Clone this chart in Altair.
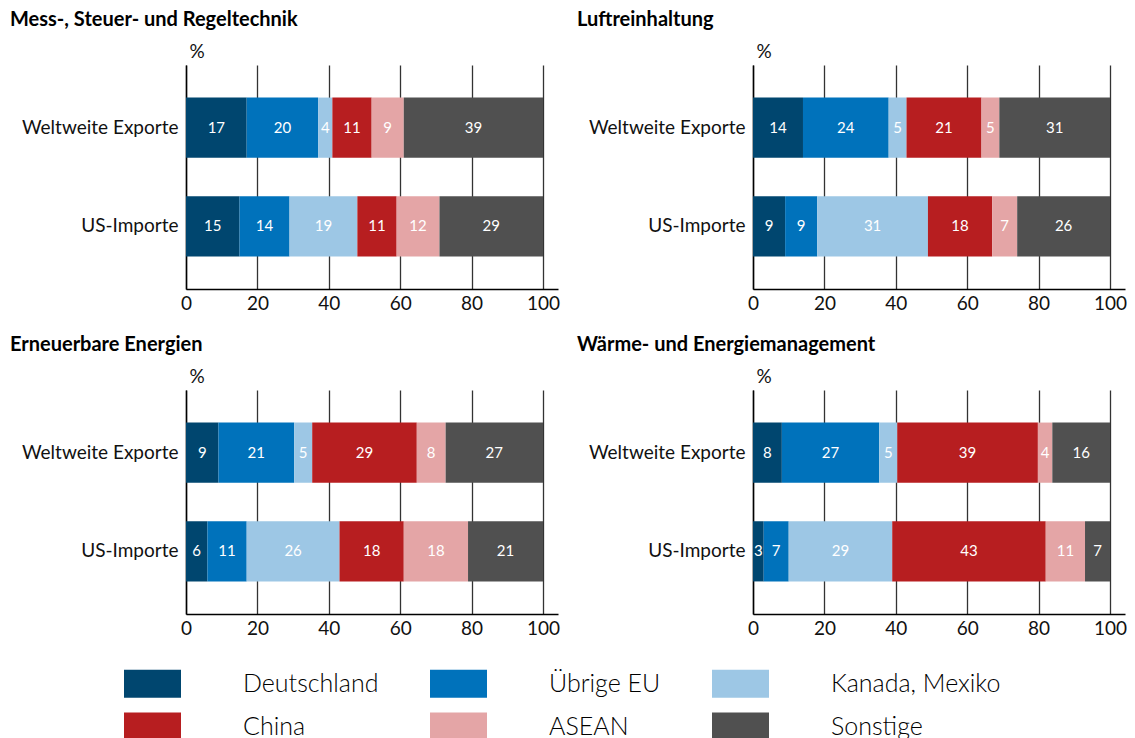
import altair as alt
import pandas as pd

panels = ["Mess-, Steuer- und Regeltechnik", "Luftreinhaltung",
          "Erneuerbare Energien", "Wärme- und Energiemanagement"]
rows = ["Weltweite Exporte", "US-Importe"]
countries = ["Deutschland", "Übrige EU", "Kanada, Mexiko", "China", "ASEAN", "Sonstige"]
colors = ["#00466f", "#0072bb", "#9dc7e5", "#b71e20", "#e4a5a6", "#505050"]

mess_export = [17, 20, 4, 11, 9, 39]
mess_import = [15, 14, 19, 11, 12, 29]
luft_export = [14, 24, 5, 21, 5, 31]
luft_import = [9, 9, 31, 18, 7, 26]
ern_export = [9, 21, 5, 29, 8, 27]
ern_import = [6, 11, 26, 18, 18, 21]
waerme_export = [8, 27, 5, 39, 4, 16]
waerme_import = [3, 7, 29, 43, 11, 7]
x_ticks = [0, 20, 40, 60, 80, 100]

FONT = "Lato"


def build_df(exp, imp):
    recs = []
    for row, vals in zip(rows, [exp, imp]):
        total = sum(vals)
        cum = 0.0
        for c, v in zip(countries, vals):
            share = v / total * 100
            recs.append(dict(row=row, country=c, start=cum, end=cum + share,
                             mid=cum + share / 2, label=str(v)))
            cum += share
    return pd.DataFrame(recs)


legend = alt.Legend(
    orient="none", legendX=-62, legendY=590, title=None,
    direction="horizontal", columns=3, columnPadding=51, rowPadding=0,
    symbolType="M-1,-0.49H1V0.49H-1Z", symbolSize=3249, symbolStrokeWidth=0,
    symbolOpacity=1, labelOffset=62, labelFontSize=25, labelFont=FONT,
    labelFontWeight=300, labelColor="#000000", labelLimit=400, padding=0,
)


def panel(name, exp, imp):
    df = build_df(exp, imp)
    base = alt.Chart(df)
    ysc = alt.Scale(domain=rows, paddingInner=0.39, paddingOuter=0.33)
    bars = base.mark_bar(strokeWidth=0).encode(
        y=alt.Y("row:N", sort=rows, scale=ysc,
                axis=alt.Axis(title="%", titleAngle=0, titleAlign="left",
                              titleBaseline="alphabetic", titleX=3, titleY=-8,
                              titleFontSize=19, titleFontWeight="normal",
                              titleFont=FONT, titleColor="#111111",
                              labelFontSize=19, labelFont=FONT, labelColor="#111111",
                              labelPadding=8, ticks=False, domainColor="#000000",
                              domainWidth=1.5, grid=False)),
        x=alt.X("start:Q", scale=alt.Scale(domain=[0, 104.2], nice=False, zero=True),
                axis=alt.Axis(values=x_ticks, title=None, labelFontSize=19,
                              labelFont=FONT, labelColor="#111111", labelPadding=5,
                              ticks=False, domainColor="#000000", domainWidth=1.5,
                              grid=True, gridColor="#333333", gridWidth=1.3,
                              labelFlush=False)),
        x2="end:Q",
        color=alt.Color("country:N", sort=countries,
                        scale=alt.Scale(domain=countries, range=colors),
                        legend=legend),
    )
    text = base.mark_text(color="white", fontSize=15, font=FONT).encode(
        x="mid:Q",
        y=alt.Y("row:N", sort=rows),
        text="label:N",
    )
    return alt.layer(bars, text).properties(
        width=372, height=224,
        title=alt.TitleParams(name, anchor="start", frame="group", dx=-176,
                              fontSize=20, fontWeight="bold", font=FONT,
                              color="#000000", offset=12),
    )


p1 = panel(panels[0], mess_export, mess_import)
p2 = panel(panels[1], luft_export, luft_import)
p3 = panel(panels[2], ern_export, ern_import)
p4 = panel(panels[3], waerme_export, waerme_import)

chart = alt.vconcat(
    alt.hconcat(p1, p2, spacing=17),
    alt.hconcat(p3, p4, spacing=17),
    spacing=22,
).properties(
    padding={"left": 2, "top": 2, "right": 0, "bottom": 0},
).configure(font=FONT).configure_view(strokeWidth=0)

chart.save("out.html", embed_options={"renderer": "svg", "actions": False})
